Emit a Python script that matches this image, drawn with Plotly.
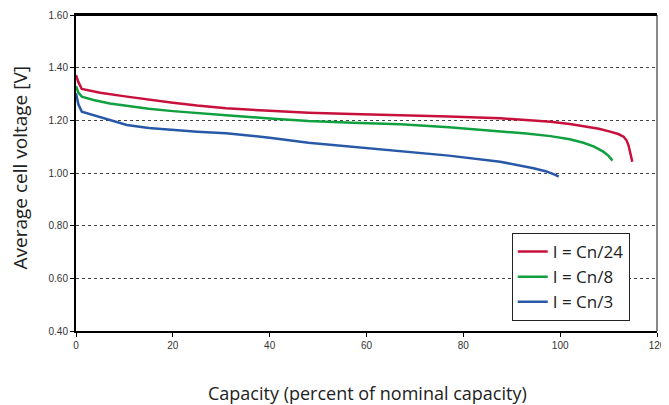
import plotly.graph_objects as go

# Capacity (percent of nominal) and average cell voltage [V]
cap_24 = [0, 0.5, 1.2, 3, 5, 10.5, 15, 20, 25, 31, 40, 48, 57, 67, 77, 87.6, 93, 98,
          102, 104.8, 108, 110.3, 112, 113.1, 113.7, 114.1, 114.5, 114.9]
v_24 = [1.372, 1.345, 1.319, 1.312, 1.305, 1.290, 1.278, 1.267, 1.256, 1.246, 1.236,
        1.229, 1.224, 1.220, 1.215, 1.208, 1.202, 1.195, 1.186, 1.178, 1.168, 1.157,
        1.148, 1.138, 1.124, 1.106, 1.078, 1.043]

cap_8 = [0, 0.5, 1.2, 3.6, 7, 10.5, 15, 20, 25, 31, 40, 48, 57, 67, 77, 87.6, 93, 98,
         102, 104.8, 107, 108.9, 110, 110.8]
v_8 = [1.330, 1.305, 1.290, 1.277, 1.264, 1.254, 1.244, 1.235, 1.227, 1.219, 1.207,
       1.197, 1.191, 1.185, 1.174, 1.159, 1.150, 1.140, 1.128, 1.115, 1.100, 1.081,
       1.065, 1.047]

cap_3 = [0, 0.5, 1.2, 3.6, 7, 10.5, 15, 20, 25, 31, 40, 48, 57, 67, 77, 87.6, 91, 94.5,
         97, 98, 99, 99.7]
v_3 = [1.303, 1.260, 1.233, 1.220, 1.200, 1.182, 1.171, 1.163, 1.157, 1.151, 1.134,
       1.115, 1.100, 1.085, 1.066, 1.043, 1.032, 1.018, 1.007, 1.001, 0.993, 0.986]

names = ["I = Cn/24", "I = Cn/8", "I = Cn/3"]
colors = ["#c8103c", "#10a040", "#2858a8"]

x_ticks = [0, 20, 40, 60, 80, 100, 120]
y_ticks = [0.40, 0.60, 0.80, 1.00, 1.20, 1.40, 1.60]

FONT = "Open Sans, Liberation Sans, Arial, sans-serif"
TICKFONT = "Liberation Sans, Arial, sans-serif"

fig = go.Figure()
for cx, vy, nm, col in zip([cap_24, cap_8, cap_3], [v_24, v_8, v_3], names, colors):
    fig.add_trace(go.Scatter(x=cx, y=vy, mode="lines", name=nm,
                             line=dict(color=col, width=2.5)))

fig.update_layout(
    width=669, height=405,
    margin=dict(l=68, r=20, t=7, b=82),
    paper_bgcolor="white", plot_bgcolor="white",
    font=dict(family=FONT, color="#222"),
    showlegend=True,
    legend=dict(x=0.75, y=0.31, xanchor="left", yanchor="top",
                bordercolor="#222", borderwidth=1, bgcolor="white",
                font=dict(size=17, color="#222", family=FONT), tracegroupgap=0),
    xaxis=dict(range=[0, 120], tickvals=x_ticks, ticktext=[str(t) for t in x_ticks],
               automargin=False,
               showgrid=False, zeroline=False, showline=True, linecolor="black",
               linewidth=2, mirror=True, ticks="outside", ticklen=4, tickcolor="black",
               tickfont=dict(size=10, color="#333", family=TICKFONT)),
    yaxis=dict(range=[0.40, 1.60], tickvals=y_ticks,
               ticktext=["%.2f" % t for t in y_ticks],
               automargin=False,
               showgrid=True, gridcolor="#444", griddash="dot", gridwidth=1,
               zeroline=False, showline=True, linecolor="black", linewidth=2,
               ticks="outside", ticklen=4, tickcolor="black",
               tickfont=dict(size=10, color="#333", family=TICKFONT)),
)
fig.add_shape(type="line", xref="paper", yref="paper", x0=1, x1=1, y0=0, y1=1,
              line=dict(color="#888", width=2))
fig.add_shape(type="line", xref="paper", yref="paper", x0=0, x1=1, y0=1, y1=1,
              line=dict(color="black", width=2))

fig.add_annotation(text="Capacity (percent of nominal capacity)", xref="paper", yref="paper",
                   x=(367 - 76) / 581, y=-(393 - 331) / 316, xanchor="center", yanchor="middle",
                   showarrow=False, font=dict(size=18, color="#222", family=FONT))
fig.add_annotation(text="Average cell voltage [V]", xref="paper", yref="paper",
                   x=-(76 - 19) / 581, y=(331 - 168.5) / 316, xanchor="center", yanchor="middle",
                   textangle=-90, showarrow=False, font=dict(size=19, color="#222", family=FONT))

fig.write_html("out.html")
